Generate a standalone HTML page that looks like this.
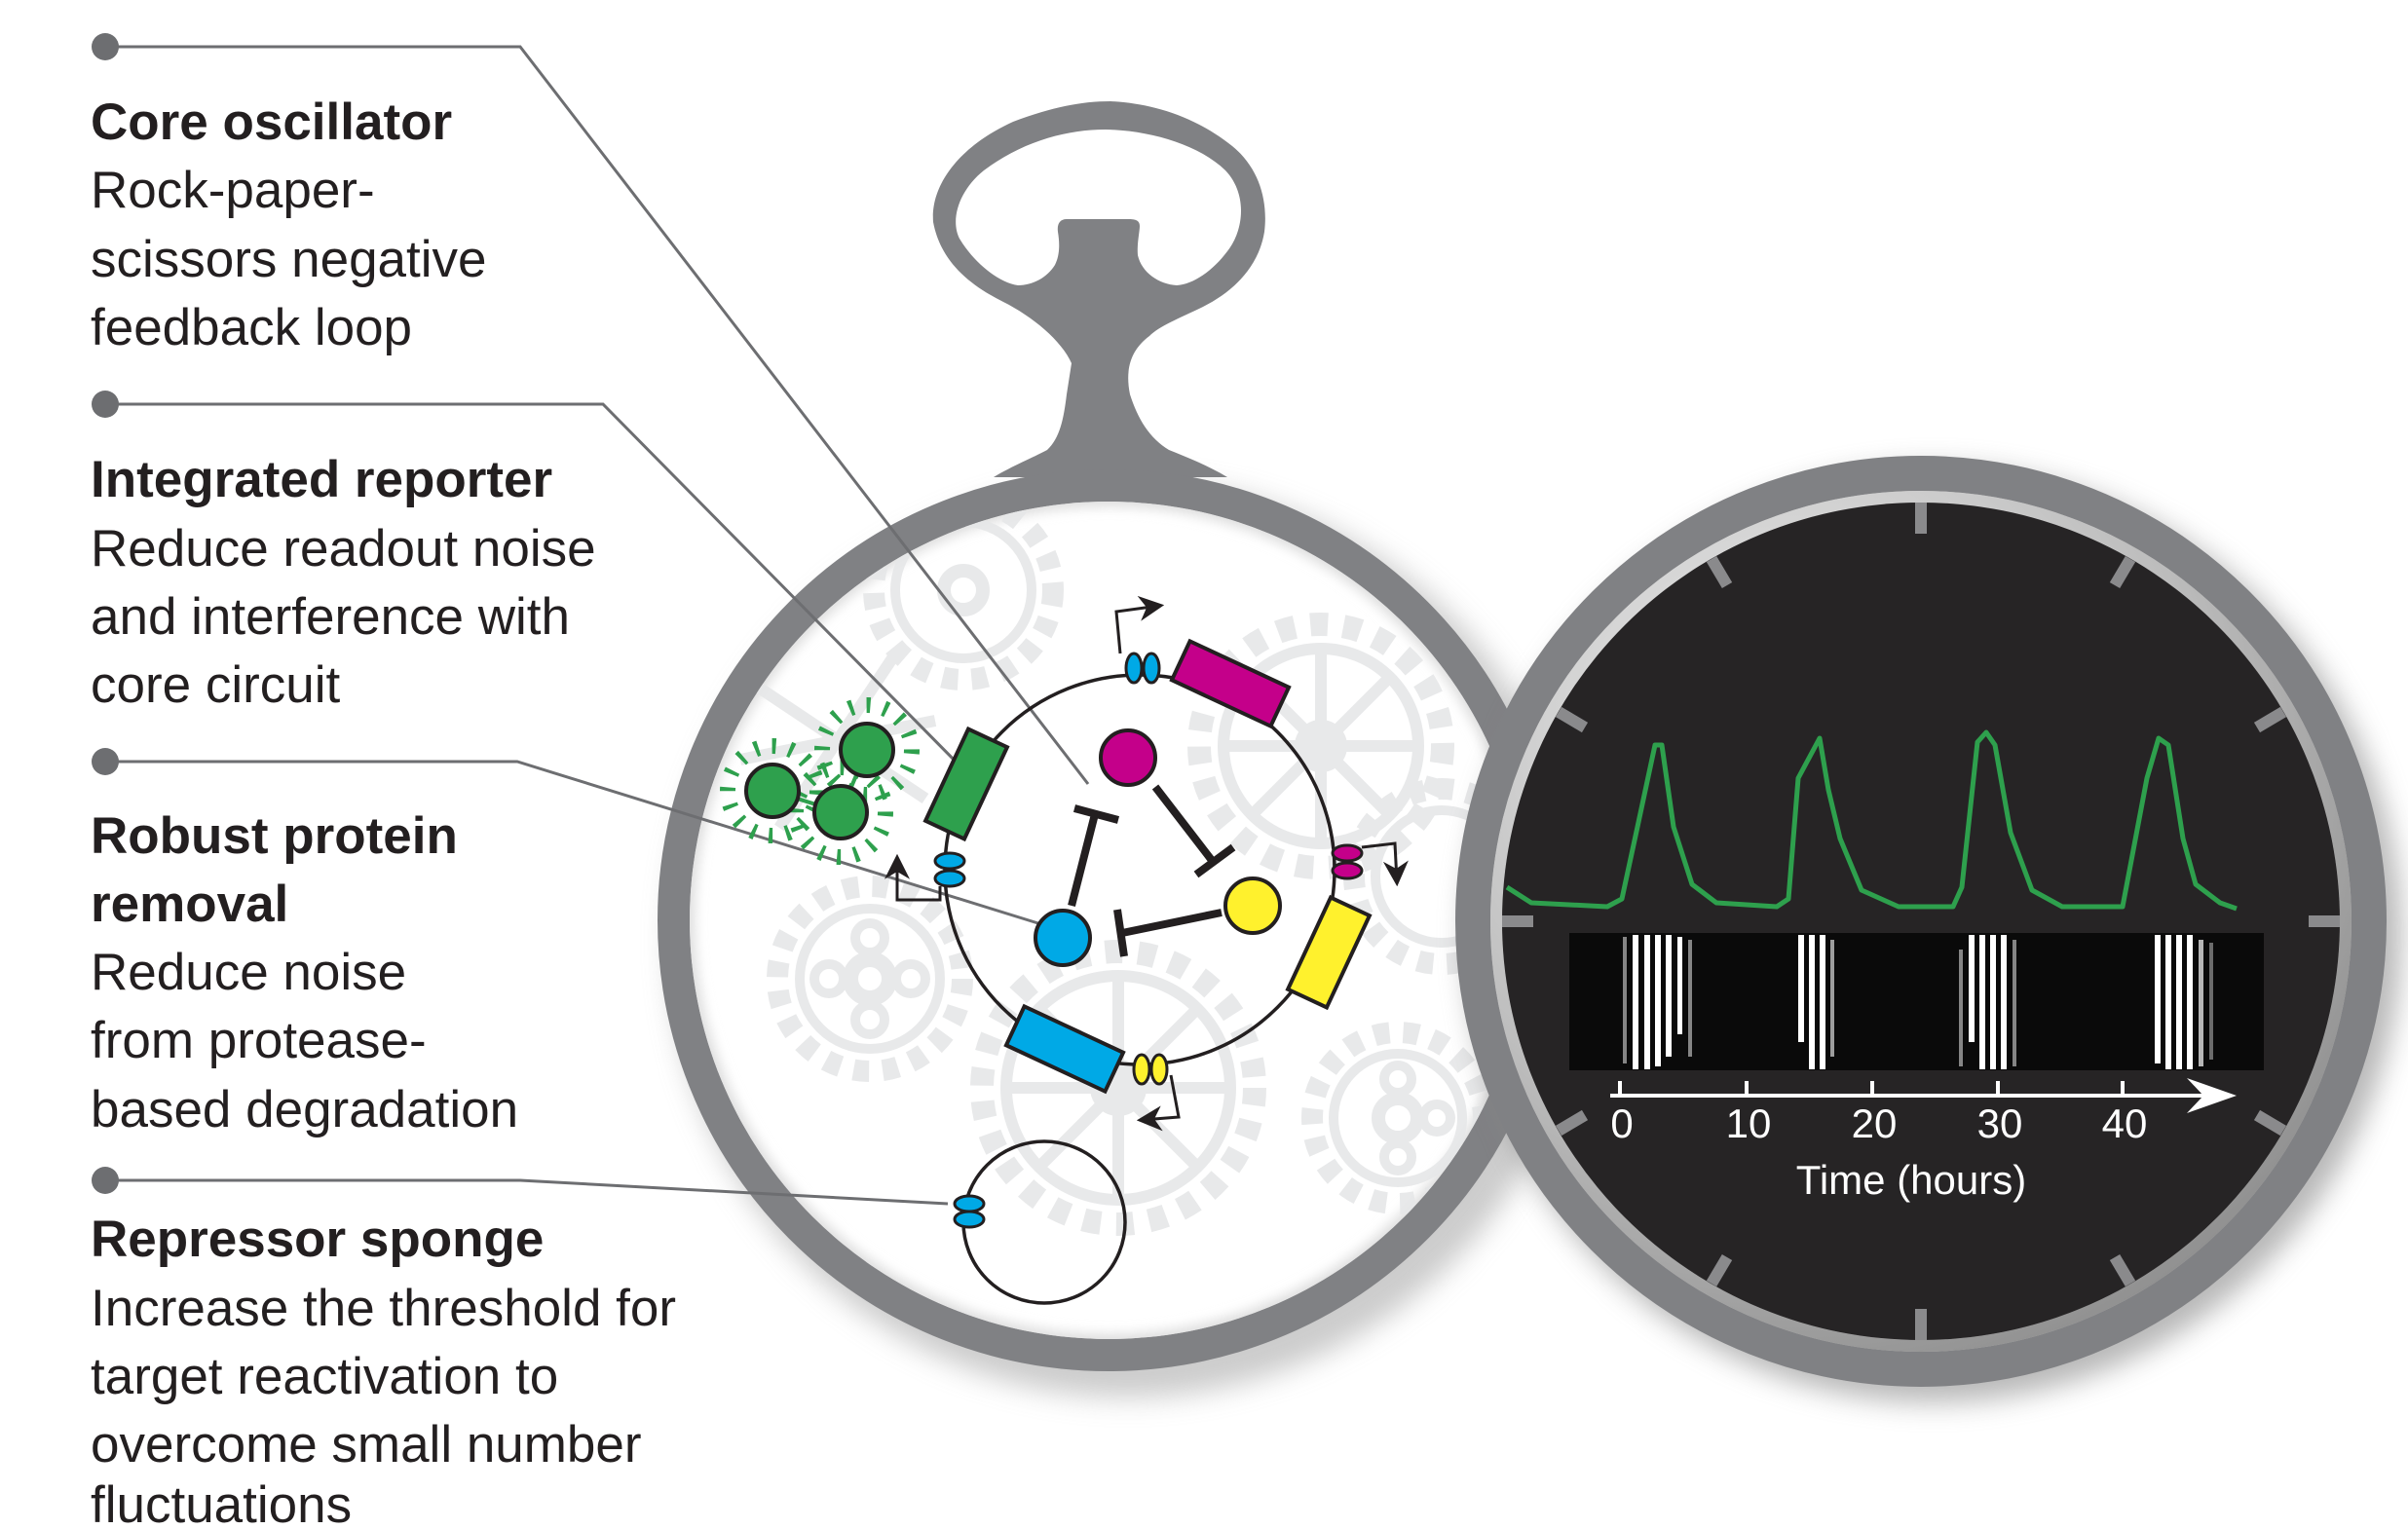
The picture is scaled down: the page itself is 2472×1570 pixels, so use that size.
<!DOCTYPE html>
<html><head><meta charset="utf-8"><style>
html,body{margin:0;padding:0;background:#fff}
svg{display:block}
.t{font-family:"Liberation Sans",sans-serif;fill:#231f20;font-size:53px}
.b{font-weight:bold}
.w{font-family:"Liberation Sans",sans-serif;fill:#fff;font-size:42px}
</style></head><body>
<svg width="2472" height="1570" viewBox="0 0 2472 1570" xmlns="http://www.w3.org/2000/svg">
<defs>
<filter id="blur" x="-20%" y="-20%" width="140%" height="140%"><feGaussianBlur stdDeviation="14"/></filter>
<filter id="blur2" x="-20%" y="-20%" width="140%" height="140%"><feGaussianBlur stdDeviation="6"/></filter>
<clipPath id="face"><circle cx="1138" cy="945" r="430"/></clipPath>
<radialGradient id="rim" cx="0.35" cy="0.3" r="0.8">
<stop offset="0" stop-color="#f2f2f2"/><stop offset="0.6" stop-color="#bdbdbd"/><stop offset="1" stop-color="#8a8a8a"/>
</radialGradient>
<marker id="ah" viewBox="0 0 10 10" refX="8" refY="5" markerWidth="26" markerHeight="26" orient="auto" markerUnits="userSpaceOnUse"><path d="M0,0 L10,5 L0,10 L3,5 z" fill="#231f20"/></marker>
</defs>

<!-- shadows -->
<circle cx="1158" cy="965" r="470" fill="#aaa" filter="url(#blur)" opacity="0.6"/>

<!-- pendant -->
<path d="M1100,373 C1090,350 1060,325 1030,310 C990,290 965,265 958,228 C955,190 985,150 1040,125 C1080,110 1110,104 1140,104 C1180,106 1225,118 1265,150 C1292,172 1302,205 1298,238 C1292,275 1265,300 1235,315 C1210,327 1190,335 1180,345 C1160,360 1155,380 1160,405 C1168,430 1180,450 1200,462 C1220,470 1240,478 1260,490 L1020,490 C1040,478 1060,470 1075,462 C1088,450 1092,430 1095,405 Z" fill="#808184"/>
<path d="M1045,293 C1025,290 1000,270 985,245 C975,225 985,195 1010,175 C1050,145 1095,133 1135,133 C1180,134 1230,148 1258,175 C1280,198 1278,235 1260,258 C1245,278 1225,292 1208,293 C1190,292 1172,280 1168,262 C1167,250 1170,238 1170,232 C1170,226 1165,225 1158,225 L1095,225 C1088,225 1085,230 1086,238 C1088,250 1088,262 1083,272 C1075,285 1060,293 1045,293 Z" fill="#fff"/>

<!-- left watch case -->
<circle cx="1138" cy="945" r="446" fill="none" stroke="#808184" stroke-width="34"/>
<circle cx="1138" cy="945" r="430" fill="#fff"/>

<g clip-path="url(#face)">
<circle cx="1138" cy="945" r="440" fill="none" stroke="#ddd" stroke-width="30" filter="url(#blur2)"/>
<g fill="none" stroke="#e6e7e8" opacity="0.9">
<g transform="translate(893,1005)"><circle r="95" stroke-width="22" stroke-dasharray="16 14"/><circle r="72" stroke-width="10"/><circle r="20" stroke-width="16"/><circle cx="0" cy="-42" r="15" stroke-width="10"/><circle cx="0" cy="42" r="15" stroke-width="10"/><circle cx="-42" cy="0" r="15" stroke-width="10"/><circle cx="42" cy="0" r="15" stroke-width="10"/></g>
<g transform="translate(1435,1148)"><circle r="88" stroke-width="22" stroke-dasharray="16 14"/><circle r="66" stroke-width="10"/><circle r="20" stroke-width="14"/><circle cx="0" cy="-40" r="14" stroke-width="10"/><circle cx="40" cy="0" r="14" stroke-width="10"/><circle cx="0" cy="40" r="14" stroke-width="10"/></g>
<g transform="translate(1148,1117)"><circle r="140" stroke-width="24" stroke-dasharray="18 16"/><circle r="115" stroke-width="12"/><circle r="22" stroke-width="14"/><path d="M0,-115 L0,115 M-115,0 L115,0 M-80,-80 L80,80 M80,-80 L-80,80" stroke-width="12"/></g>
<g transform="translate(1356,766)"><circle r="125" stroke-width="24" stroke-dasharray="18 16"/><circle r="100" stroke-width="12"/><circle r="20" stroke-width="14"/><path d="M0,-100 L0,100 M-100,0 L100,0 M-70,-70 L70,70 M70,-70 L-70,70" stroke-width="12"/></g>
<g transform="translate(989,606)"><circle r="92" stroke-width="22" stroke-dasharray="16 14"/><circle r="70" stroke-width="10"/><circle r="20" stroke-width="14"/></g>
<g transform="translate(860,760)"><path d="M-90,-60 L90,60 M-60,90 L60,-90 M-100,20 L100,-20" stroke-width="12"/></g>
<g transform="translate(1480,900)"><circle r="90" stroke-width="22" stroke-dasharray="16 14"/><circle r="68" stroke-width="10"/></g>
</g>
</g>

<!-- leader lines -->
<g stroke="#6d6e71" stroke-width="3" fill="none">
<polyline points="108,48 534,48 1117,805"/>
<polyline points="108,415 619,415 989,790"/>
<polyline points="108,782 531,782 1085,954"/>
<polyline points="108,1212 534,1212 973,1236"/>
</g>
<g fill="#6d6e71">
<circle cx="108" cy="48" r="14"/><circle cx="108" cy="415" r="14"/><circle cx="108" cy="782" r="14"/><circle cx="108" cy="1212" r="14"/>
</g>

<!-- circuit -->
<circle cx="1170" cy="893" r="200" fill="none" stroke="#231f20" stroke-width="3.5"/>
<circle cx="1072" cy="1255" r="83" fill="none" stroke="#231f20" stroke-width="3.5"/>
<g stroke="#231f20" stroke-width="4">
<rect x="-56" y="-22" width="112" height="44" transform="translate(1263,702) rotate(25)" fill="#c4008a"/>
<rect x="-22" y="-52" width="44" height="104" transform="translate(992,805) rotate(25)" fill="#2ea04d"/>
<rect x="-22" y="-52" width="44" height="104" transform="translate(1364,978) rotate(25)" fill="#fff12d"/>
<rect x="-56" y="-22" width="112" height="44" transform="translate(1093,1077) rotate(25)" fill="#00a9e6"/>
</g>
<g stroke="#231f20" stroke-width="3">
<ellipse cx="1164" cy="686" rx="8" ry="15" fill="#00a9e6"/><ellipse cx="1182" cy="686" rx="8" ry="15" fill="#00a9e6"/>
<ellipse cx="975" cy="884" rx="15" ry="8" fill="#00a9e6"/><ellipse cx="975" cy="902" rx="15" ry="8" fill="#00a9e6"/>
<ellipse cx="1383" cy="876" rx="15" ry="8" fill="#c4008a"/><ellipse cx="1383" cy="894" rx="15" ry="8" fill="#c4008a"/>
<ellipse cx="1172" cy="1098" rx="8" ry="15" fill="#fff12d"/><ellipse cx="1190" cy="1098" rx="8" ry="15" fill="#fff12d"/>
<ellipse cx="995" cy="1236" rx="15" ry="8" fill="#00a9e6"/><ellipse cx="995" cy="1252" rx="15" ry="8" fill="#00a9e6"/>
</g>
<g stroke="#231f20" stroke-width="3" fill="none">
<polyline points="1150,671 1146,628 1190,622" marker-end="url(#ah)"/>
<polyline points="965,910 965,924 921,924 921,882" marker-end="url(#ah)"/>
<polyline points="1398,870 1432,866 1434,905" marker-end="url(#ah)"/>
<polyline points="1202,1104 1210,1147 1172,1150" marker-end="url(#ah)"/>
</g>
<path d="M1186,808 L1246,886 M1228,898 L1266,870 M1100,930 L1124,836 M1103,830 L1148,842 M1254,937 L1152,958 M1147,934 L1154,982" stroke="#231f20" stroke-width="8" fill="none"/>
<circle cx="1158" cy="778" r="28" fill="#c4008a" stroke="#231f20" stroke-width="4"/>
<circle cx="1286" cy="930" r="28" fill="#fff12d" stroke="#231f20" stroke-width="4"/>
<circle cx="1091" cy="963" r="28" fill="#00a9e6" stroke="#231f20" stroke-width="4"/>

<!-- green cluster -->
<g stroke="#2ea04d" stroke-width="16" fill="none" stroke-dasharray="4 14">
<circle cx="793" cy="812" r="46"/><circle cx="890" cy="770" r="46"/><circle cx="863" cy="834" r="46"/>
</g>
<path d="M793,812 L863,834 L890,770" stroke="#2ea04d" stroke-width="4" fill="none"/>
<g fill="#2ea04d" stroke="#231f20" stroke-width="4">
<circle cx="793" cy="812" r="27"/><circle cx="890" cy="770" r="27"/><circle cx="863" cy="834" r="27"/>
</g>

<!-- right watch -->
<circle cx="1985" cy="960" r="480" fill="#888" filter="url(#blur)" opacity="0.6"/>
<circle cx="1972" cy="946" r="460" fill="none" stroke="#808184" stroke-width="36"/>
<circle cx="1972" cy="946" r="436" fill="none" stroke="url(#rim)" stroke-width="12"/>
<circle cx="1972" cy="946" r="430" fill="#262425"/>
<g stroke="#8a8a8c" stroke-width="12" transform="translate(6,0)">
<line x1="1966" y1="548" x2="1966" y2="516"/><line x1="2165" y1="601" x2="2181" y2="574"/>
<line x1="2311" y1="747" x2="2338" y2="731"/><line x1="2364" y1="946" x2="2396" y2="946"/>
<line x1="2311" y1="1145" x2="2338" y2="1161"/><line x1="2165" y1="1291" x2="2181" y2="1318"/>
<line x1="1966" y1="1344" x2="1966" y2="1376"/><line x1="1767" y1="1291" x2="1751" y2="1318"/>
<line x1="1621" y1="1145" x2="1594" y2="1161"/><line x1="1568" y1="946" x2="1536" y2="946"/>
<line x1="1621" y1="747" x2="1594" y2="731"/><line x1="1767" y1="601" x2="1751" y2="574"/>
</g>
<polyline fill="none" stroke="#2ea04d" stroke-width="5" stroke-linejoin="round" points="1547,911 1572,927 1650,931 1665,923 1681,849 1699,765 1706,765 1718,849 1737,908 1762,927 1824,931 1836,923 1846,799 1868,758 1877,811 1889,861 1911,914 1949,931 2005,931 2014,911 2030,762 2039,752 2048,765 2064,855 2086,914 2117,931 2179,931 2204,799 2216,758 2226,765 2241,861 2254,908 2279,927 2296,933"/>
<rect x="1611" y="958" width="713" height="141" fill="#0a0a0a"/>
<g fill="#fff">
<rect x="1666" y="962" width="4" height="130" opacity="0.5"/><rect x="1676" y="960" width="6" height="138"/><rect x="1688" y="960" width="6" height="138"/><rect x="1699" y="960" width="6" height="135"/><rect x="1710" y="960" width="6" height="125"/><rect x="1722" y="962" width="5" height="100"/><rect x="1733" y="965" width="4" height="120" opacity="0.5"/>
<rect x="1846" y="960" width="6" height="110"/><rect x="1857" y="960" width="6" height="138"/><rect x="1868" y="960" width="6" height="138"/><rect x="1879" y="965" width="4" height="120" opacity="0.6"/>
<rect x="2011" y="975" width="4" height="120" opacity="0.5"/><rect x="2021" y="960" width="6" height="110"/><rect x="2032" y="960" width="6" height="138"/><rect x="2043" y="960" width="6" height="138"/><rect x="2054" y="960" width="6" height="138"/><rect x="2066" y="965" width="4" height="130" opacity="0.5"/>
<rect x="2212" y="960" width="6" height="132"/><rect x="2223" y="960" width="6" height="138"/><rect x="2234" y="960" width="6" height="138"/><rect x="2245" y="960" width="6" height="138"/><rect x="2257" y="965" width="5" height="130" opacity="0.7"/><rect x="2268" y="968" width="4" height="120" opacity="0.4"/>
</g>
<g stroke="#fff" stroke-width="4" fill="none">
<line x1="1653" y1="1125" x2="2275" y2="1125"/>
<line x1="1663" y1="1110" x2="1663" y2="1125"/><line x1="1793" y1="1110" x2="1793" y2="1125"/><line x1="1922" y1="1110" x2="1922" y2="1125"/><line x1="2051" y1="1110" x2="2051" y2="1125"/><line x1="2179" y1="1110" x2="2179" y2="1125"/>
</g>
<path d="M2296,1125 L2245,1107 L2262,1125 L2245,1143 Z" fill="#fff"/>
<g class="w" text-anchor="middle">
<text x="1665" y="1168">0</text><text x="1795" y="1168">10</text><text x="1924" y="1168">20</text><text x="2053" y="1168">30</text><text x="2181" y="1168">40</text>
<text x="1962" y="1226">Time (hours)</text>
</g>

<!-- text -->
<g class="t">
<text x="93" y="143" class="b">Core oscillator</text>
<text x="93" y="213">Rock-paper-</text>
<text x="93" y="284">scissors negative</text>
<text x="93" y="354">feedback loop</text>
<text x="93" y="510" class="b">Integrated reporter</text>
<text x="93" y="581">Reduce readout noise</text>
<text x="93" y="651">and interference with</text>
<text x="93" y="721">core circuit</text>
<text x="93" y="876" class="b">Robust protein</text>
<text x="93" y="946" class="b">removal</text>
<text x="93" y="1016">Reduce noise</text>
<text x="93" y="1086">from protease-</text>
<text x="93" y="1157">based degradation</text>
<text x="93" y="1290" class="b">Repressor sponge</text>
<text x="93" y="1361">Increase the threshold for</text>
<text x="93" y="1431">target reactivation to</text>
<text x="93" y="1501">overcome small number</text>
<text x="93" y="1563">fluctuations</text>
</g>
</svg>
</body></html>
